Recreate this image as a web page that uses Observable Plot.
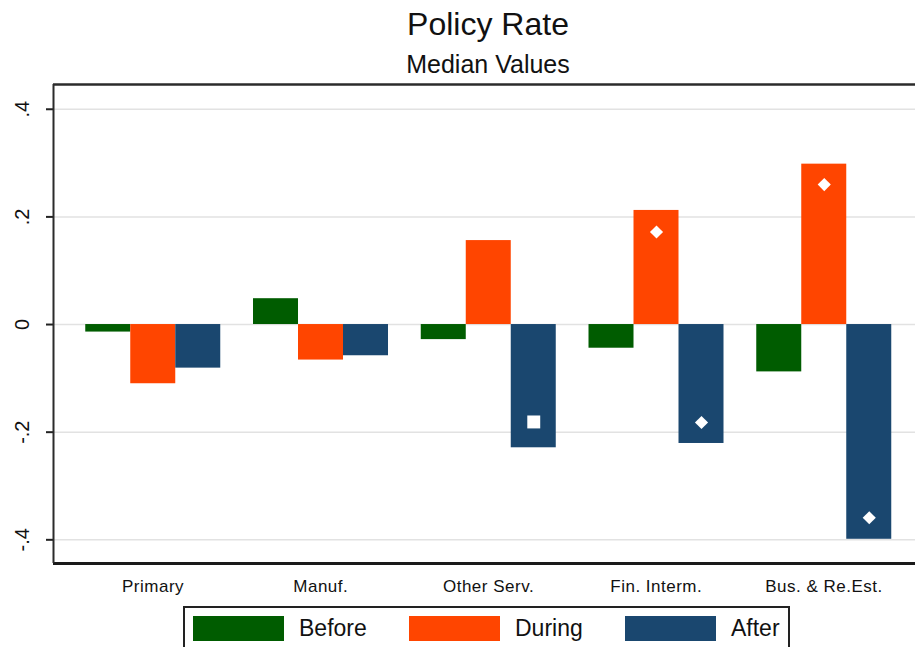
<!DOCTYPE html>
<html>
<head>
<meta charset="utf-8">
<script src="https://cdn.jsdelivr.net/npm/d3@7"></script>
<script src="https://cdn.jsdelivr.net/npm/@observablehq/plot@0.6"></script>
<style>
  html, body { margin: 0; padding: 0; background: #fff; overflow: hidden; }
  #wrap { position: relative; width: 915px; height: 647px; overflow: hidden;
          font-family: "Liberation Sans", Arial, Helvetica, sans-serif; color: #111; }
  #title { position: absolute; left: 60px; width: 856px; top: 6px; text-align: center;
           font-size: 32px; line-height: 36px; }
  #subtitle { position: absolute; left: 60px; width: 856px; top: 50px; text-align: center;
              font-size: 25px; line-height: 28px; }
  .layer { position: absolute; left: 0; top: 83px; }
  .bars text { letter-spacing: 0.5px; }
  #legend { position: absolute; left: 183px; top: 606px; width: 595px; height: 60px;
            border: 2px solid #222; display: flex; align-items: flex-start; padding-left: 8px;
            box-sizing: content-box; overflow: hidden; }
  .item { display: flex; align-items: center; flex: none; width: 216px; margin-top: 8px; }
  .swatch { width: 91px; height: 25px; margin-right: 15px; flex: none; }
  .lab { font-size: 23px; line-height: 25px; white-space: nowrap; }
</style>
</head>
<body>
<div id="wrap">
  <div id="title"></div>
  <div id="subtitle"></div>
  <div id="bg" class="layer"></div>
  <div id="fg" class="layer"></div>
  <div id="legend"></div>
</div>
<script>
// ---- Data ----
const titleText = "Policy Rate";
const subtitleText = "Median Values";
const categories = ["Primary", "Manuf.", "Other Serv.", "Fin. Interm.", "Bus. & Re.Est."];
const periods = ["Before", "During", "After"];
const colors = ["#005c00", "#ff4500", "#1a476f"];
const beforeValues = [-0.014, 0.048, -0.028, -0.044, -0.088];
const duringValues = [-0.110, -0.066, 0.156, 0.212, 0.298];
const afterValues  = [-0.081, -0.058, -0.229, -0.221, -0.399];
const markerCategory = ["Other Serv.", "Fin. Interm.", "Bus. & Re.Est.", "Fin. Interm.", "Bus. & Re.Est."];
const markerPeriod   = ["After", "After", "After", "During", "During"];
const markerValue    = [-0.181, -0.182, -0.359, 0.172, 0.260];
const markerShape    = ["square", "diamond2", "diamond2", "diamond2", "diamond2"];
const yTicks = [0.4, 0.2, 0, -0.2, -0.4];
const yTickLabels = [".4", ".2", "0", "-.2", "-.4"];
const yDomain = [-0.444, 0.446];

// ---- Build tables ----
const series = [beforeValues, duringValues, afterValues];
const rows = categories.flatMap((c, i) => periods.map((p, j) => ({cat: c, period: p, value: series[j][i]})));
const markers = markerValue.map((v, i) => ({cat: markerCategory[i], period: markerPeriod[i], value: v, shape: markerShape[i]}));

document.getElementById("title").textContent = titleText;
document.getElementById("subtitle").textContent = subtitleText;

const W = 915, H = 525, MT = 1, MB = 45, ML = 53;
const font = "'Liberation Sans', Arial, Helvetica, sans-serif";

// Background layer: grid, frame, y axis
const bg = Plot.plot({
  width: W, height: H,
  marginTop: MT, marginBottom: MB, marginLeft: ML, marginRight: 0,
  style: {fontFamily: font, background: "white", color: "#111", overflow: "visible"},
  x: {domain: [0, 1], axis: null},
  y: {domain: yDomain, range: [H - MB, MT], axis: null},
  marks: [
    Plot.ruleY(yTicks, {stroke: "#e2e2e2", strokeWidth: 1.5}),
    Plot.axisY({ticks: yTicks, tickSize: 7, tickFormat: () => "", label: null, stroke: "#222", strokeWidth: 2}),
    Plot.text(yTicks, {y: d => d, text: (d, i) => yTickLabels[i], frameAnchor: "left", dx: -31,
                       rotate: -90, fontSize: 20, textAnchor: "middle", lineAnchor: "middle", fill: "#111"}),
    Plot.ruleY([yDomain[1]], {stroke: "#2b2b2b", strokeWidth: 2.5}),
    Plot.ruleY([yDomain[0]], {stroke: "#1a1a1a", strokeWidth: 3}),
    Plot.ruleX([0], {stroke: "#2b2b2b", strokeWidth: 2})
  ]
});
document.getElementById("bg").appendChild(bg);

// Foreground layer: bars and markers, faceted by category
const fg = Plot.plot({
  className: "bars",
  width: W, height: H,
  marginTop: MT, marginBottom: MB, marginLeft: ML, marginRight: 0,
  facet: {marginTop: 0, marginBottom: 0, marginLeft: 0, marginRight: 0},
  style: {fontFamily: font, background: "transparent", color: "#111", overflow: "visible"},
  fx: {domain: categories, range: [ML, W], paddingInner: 0.186, paddingOuter: 0.1623, align: 0.574, round: false},
  x: {domain: periods, padding: 0, axis: null},
  y: {domain: yDomain, range: [H - MB, MT], axis: null},
  color: {domain: periods, range: colors},
  marks: [
    Plot.barY(rows, {fx: "cat", x: "period", y: "value", fill: "period"}),
    Plot.dot(markers.filter(d => d.shape === "diamond2"), {fx: "cat", x: "period", y: "value", symbol: "diamond2", r: 5.9, fill: "white", stroke: "none"}),
    Plot.dot(markers.filter(d => d.shape === "square"), {fx: "cat", x: "period", y: "value", symbol: "square", r: 7.3, fill: "white", stroke: "none"}),
    Plot.axisFx({anchor: "bottom", tickSize: 0, tickPadding: 16, fontSize: 17, label: null, fill: "#111"})
  ]
});
document.getElementById("fg").appendChild(fg);

// Legend
const legend = document.getElementById("legend");
periods.forEach((p, i) => {
  const item = document.createElement("div");
  item.className = "item";
  const sw = document.createElement("div");
  sw.className = "swatch";
  sw.style.background = colors[i];
  const lab = document.createElement("span");
  lab.className = "lab";
  lab.textContent = p;
  item.appendChild(sw);
  item.appendChild(lab);
  legend.appendChild(item);
});
</script>
</body>
</html>
